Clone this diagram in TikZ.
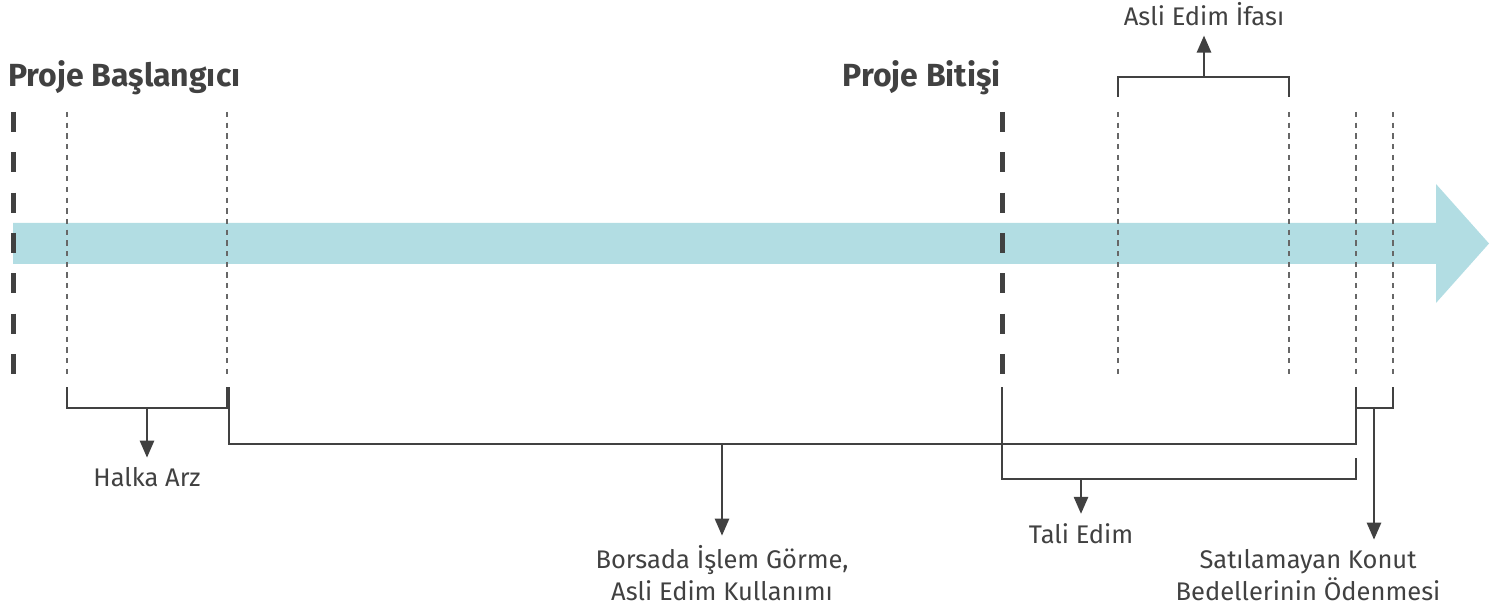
\documentclass[tikz,border=0pt]{standalone}
\usepackage{fontspec}
\setmainfont{Fira Sans}
\usetikzlibrary{arrows.meta}
\definecolor{barc}{HTML}{B2DDE3}
\definecolor{ink}{HTML}{414141}
\begin{document}
\begin{tikzpicture}[x=1pt,y=-1pt,
  lbl/.style={font=\fontsize{25.5}{32}\selectfont, text=ink, inner xsep=0pt, inner ysep=9pt, align=center, anchor=base},
  ttl/.style={font=\fontsize{32}{38}\selectfont\bfseries, text=ink, inner sep=0pt},
  brk/.style={draw=ink, line width=2.6pt},
  arr/.style={draw=ink, line width=2.6pt, -{Triangle[width=14pt,length=17pt]}},
  major/.style={draw=ink, line width=5pt, dash pattern=on 20pt off 20.33pt},
  minor/.style={draw=ink!80, line width=1.4pt, dash pattern=on 5.3pt off 5.4pt}]
\useasboundingbox (0,0) rectangle (1497,604);
% timeline bar
\fill[barc] (13,223) -- (1436,223) -- (1436,184) -- (1489,243.5) -- (1436,303) -- (1436,264) -- (13,264) -- cycle;
% milestone lines
\draw[major] (13,112) -- (13,374);
\draw[major] (1002,112) -- (1002,374);
\foreach \x in {67,227,1118,1289,1356,1393}
  \draw[minor] (\x,112) -- (\x,374);
% titles
\node[ttl, anchor=base west] (start) at (8,87) {Proje Başlangıcı};
\node[ttl, anchor=base east] (end) at (1001,87) {Proje Bitişi};
% labels
\node[lbl] (halka) at (147,486) {Halka Arz};
\node[lbl] (borsa) at (722,600) {Borsada İşlem Görme,\\Asli Edim Kullanımı};
\node[lbl] (tali) at (1081,543) {Tali Edim};
\node[lbl] (satil) at (1308,600) {Satılamayan Konut\\Bedellerinin Ödenmesi};
\node[lbl] (ifa) at (1204,26) {Asli Edim İfası};
% bracket coordinates
\coordinate (hA) at (147,408);
\coordinate (bA) at (722,444);
\coordinate (tA) at (1081,479);
\coordinate (sA) at (1374,408);
\coordinate (iA) at (1204,77);
% brackets
\draw[brk] (67,387) -- (67,408) -- (227,408) -- (227,387);
\draw[brk] (229,387) -- (229,444) -- (1356,444) -- (1356,387);
\draw[brk] (1002,387) -- (1002,479) -- (1356,479) -- (1356,458);
\draw[brk] (1356,387) -- (1356,408) -- (1393,408) -- (1393,387);
\draw[brk] (1118,97) -- (1118,77) -- (1289,77) -- (1289,97);
% arrows
\draw[arr] (hA) -- (hA |- halka.north);
\draw[arr] (bA) -- (bA |- borsa.north);
\draw[arr] (tA) -- (tA |- tali.north);
\draw[arr] (sA) -- (sA |- satil.north);
\draw[arr] (iA) -- (iA |- ifa.south);
\end{tikzpicture}
\end{document}
